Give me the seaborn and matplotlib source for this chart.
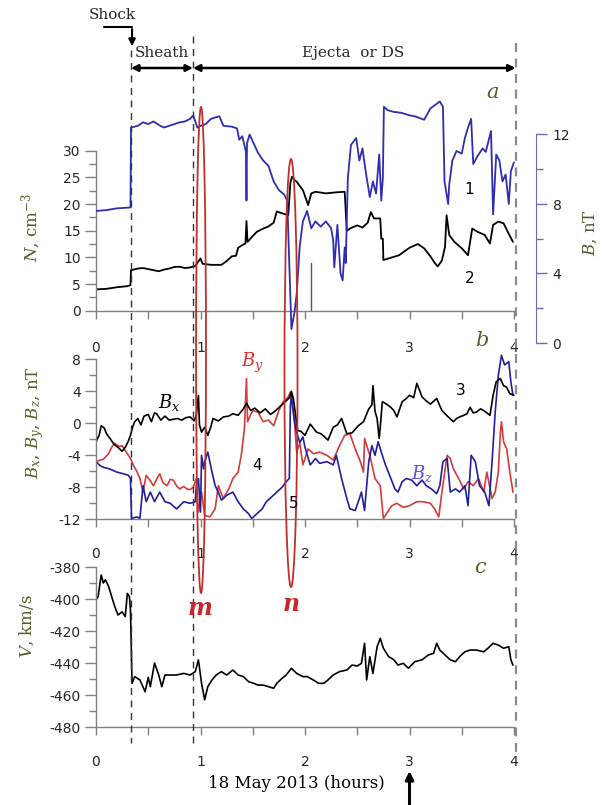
# %%
import numpy as np
import pandas as pd
import matplotlib
matplotlib.use('Agg')
import matplotlib.pyplot as plt
import seaborn as sns
from matplotlib.patches import Ellipse

# %%
# panel a : N (curve 2) and |B| (curve 1)
n_time = [0.00, 0.10, 0.20, 0.30, 0.33, 0.335, 0.40, 0.45, 0.50, 0.55, 0.60, 0.65, 0.70, 0.75,
          0.80, 0.85, 0.90, 0.95, 1.00, 1.02, 1.10, 1.20, 1.25, 1.30, 1.34, 1.36, 1.40, 1.43,
          1.44, 1.45, 1.50, 1.54, 1.60, 1.65, 1.70, 1.73, 1.79, 1.84, 1.86, 1.875, 1.90, 1.92,
          1.98, 2.00, 2.03, 2.06, 2.10, 2.20, 2.30, 2.38, 2.40, 2.44, 2.50, 2.55, 2.60, 2.63,
          2.66, 2.72, 2.73, 2.745, 2.75, 2.80, 2.90, 3.00, 3.08, 3.14, 3.20, 3.24, 3.27, 3.31,
          3.34, 3.355, 3.38, 3.43, 3.50, 3.56, 3.60, 3.65, 3.72, 3.77, 3.80, 3.85, 3.90, 3.94, 3.99]
n_vals = [4.0, 4.1, 4.4, 4.6, 4.8, 7.6, 7.9, 8.0, 7.8, 7.6, 7.4, 7.7, 7.9, 8.2,
          8.25, 8.0, 8.1, 8.4, 9.8, 8.8, 8.6, 8.6, 9.3, 10.2, 10.3, 11.8, 12.3, 12.6,
          16.8, 12.9, 14.0, 14.8, 15.4, 15.8, 16.5, 18.6, 18.2, 17.9, 24.0, 25.1, 24.5, 24.2,
          22.6, 21.5, 19.8, 22.0, 22.3, 22.0, 22.2, 22.3, 15.0, 15.5, 16.0, 15.6, 16.5, 18.5,
          17.3, 17.3, 13.5, 13.5, 9.5, 9.8, 10.4, 11.8, 12.5, 11.7, 10.2, 9.0, 8.3, 9.4,
          12.0, 17.9, 14.2, 12.9, 11.7, 10.4, 15.4, 14.8, 14.2, 12.6, 16.1, 16.7, 16.4, 14.8, 12.9]
gap_time = [2.06, 2.06]
gap_vals = [0.0, 9.0]

b_time = [0.00, 0.10, 0.20, 0.33, 0.335, 0.40, 0.45, 0.50, 0.55, 0.60, 0.65, 0.70, 0.75, 0.80,
          0.85, 0.90, 0.93, 0.97, 1.00, 1.05, 1.10, 1.18, 1.22, 1.30, 1.35, 1.37, 1.40, 1.42,
          1.435, 1.44, 1.445, 1.47, 1.50, 1.55, 1.60, 1.65, 1.70, 1.75, 1.80, 1.83, 1.85, 1.87,
          1.90, 1.92, 1.95, 1.98, 2.02, 2.06, 2.10, 2.15, 2.20, 2.25, 2.27, 2.28, 2.31, 2.34,
          2.36, 2.38, 2.39, 2.41, 2.44, 2.49, 2.52, 2.55, 2.58, 2.62, 2.65, 2.68, 2.71, 2.73,
          2.745, 2.755, 2.79, 2.85, 2.92, 3.00, 3.05, 3.14, 3.20, 3.29, 3.32, 3.335, 3.37, 3.38,
          3.41, 3.45, 3.50, 3.53, 3.56, 3.59, 3.61, 3.65, 3.70, 3.73, 3.78, 3.80, 3.83, 3.86,
          3.89, 3.92, 3.95, 3.97, 4.00]
b_vals = [7.6, 7.65, 7.75, 7.8, 12.4, 12.5, 12.7, 12.6, 12.75, 12.55, 12.4, 12.5, 12.6, 12.7,
          12.75, 12.9, 13.1, 12.4, 12.5, 12.6, 12.9, 13.05, 12.5, 12.45, 12.35, 11.7, 11.9, 11.4,
          11.0, 8.2, 11.5, 12.0, 11.6, 10.95, 10.5, 10.2, 9.3, 8.8, 8.55, 8.2, 4.5, 0.8,
          1.8, 2.8, 5.6, 7.0, 7.6, 6.6, 7.0, 6.7, 7.0, 6.6, 5.9, 4.35, 6.8, 4.0,
          3.6, 5.5, 4.6, 9.5, 11.4, 11.8, 10.5, 11.2, 9.9, 8.4, 9.3, 8.6, 10.85, 8.2,
          9.5, 13.6, 13.4, 13.3, 13.25, 13.1, 13.05, 12.85, 13.5, 13.9, 13.6, 9.3, 8.0, 9.1,
          10.5, 11.05, 10.9, 11.8, 12.4, 12.9, 10.3, 10.75, 11.2, 11.0, 12.2, 7.4, 10.85, 10.5,
          9.3, 9.7, 8.0, 9.9, 10.4]

# %%
# panel b : Bx (3), By (4), Bz (5)
bx_time = [0.00, 0.03, 0.05, 0.08, 0.10, 0.14, 0.17, 0.21, 0.25, 0.28, 0.31, 0.33, 0.35, 0.37,
           0.40, 0.43, 0.46, 0.50, 0.53, 0.56, 0.58, 0.62, 0.66, 0.70, 0.74, 0.78, 0.82, 0.86,
           0.90, 0.94, 0.96, 0.98, 0.99, 1.01, 1.04, 1.07, 1.10, 1.12, 1.17, 1.22, 1.27, 1.31,
           1.36, 1.41, 1.44, 1.48, 1.52, 1.57, 1.62, 1.67, 1.72, 1.77, 1.82, 1.85, 1.87, 1.89,
           1.91, 1.93, 1.96, 2.00, 2.05, 2.08, 2.11, 2.15, 2.18, 2.22, 2.27, 2.31, 2.35, 2.40,
           2.45, 2.51, 2.56, 2.61, 2.64, 2.65, 2.67, 2.69, 2.71, 2.72, 2.74, 2.78, 2.82, 2.85,
           2.88, 2.93, 2.97, 3.00, 3.04, 3.07, 3.10, 3.12, 3.16, 3.20, 3.26, 3.31, 3.34, 3.37,
           3.42, 3.45, 3.48, 3.52, 3.55, 3.58, 3.61, 3.64, 3.68, 3.71, 3.74, 3.77, 3.80, 3.83,
           3.87, 3.90, 3.93, 3.96, 4.00]
bx_vals = [-2.3, -1.5, -0.3, -0.6, -1.3, -2.0, -2.6, -3.0, -3.5, -3.0, -2.2, -1.5, -0.5, 0.2,
           0.6, -0.2, 0.9, 1.1, 0.2, 1.3, 1.2, 0.4, 0.9, 0.4, 0.5, 0.6, 0.4, 0.7,
           0.8, 0.3, 1.0, 3.5, -0.2, -1.1, -0.5, -1.5, -0.4, 0.6, 0.3, 0.8, 0.9, 1.2,
           1.0, 1.8, 2.5, 1.6, 1.9, 1.3, 1.8, 1.1, 1.6, 2.2, 2.8, 3.2, 4.0, 3.0,
           1.0, -0.9, -1.0, -1.5, -0.1, -0.6, -1.1, -1.3, -1.6, -2.1, -0.5, -0.2, 0.6, -1.3,
           -1.2, -0.3, 0.2, 1.8, 2.3, 4.7, 1.5, 0.6, -1.9, -0.5, 2.7, 2.4, 2.0, 1.6,
           0.8, 2.7, 3.1, 3.5, 3.2, 5.0, 4.0, 3.3, 2.8, 2.4, 3.1, 1.6, 1.2, 0.8,
           0.2, 0.6, 0.8, 1.0, 1.2, 2.0, 1.3, 1.4, 1.8, 1.6, 1.3, 1.0, 3.5, 5.2,
           5.6, 4.7, 4.5, 3.7, 3.5]

by_time = [0.00, 0.04, 0.07, 0.10, 0.12, 0.15, 0.18, 0.22, 0.25, 0.29, 0.33, 0.36, 0.39, 0.42,
           0.45, 0.48, 0.52, 0.55, 0.58, 0.61, 0.64, 0.68, 0.71, 0.74, 0.77, 0.80, 0.84, 0.87,
           0.90, 0.93, 0.96, 0.98, 1.01, 1.04, 1.09, 1.14, 1.17, 1.20, 1.22, 1.27, 1.31, 1.36,
           1.39, 1.42, 1.44, 1.45, 1.47, 1.50, 1.55, 1.60, 1.65, 1.70, 1.75, 1.79, 1.84, 1.86,
           1.87, 1.90, 1.92, 1.95, 1.98, 2.03, 2.08, 2.14, 2.21, 2.27, 2.33, 2.38, 2.43, 2.48,
           2.53, 2.56, 2.57, 2.62, 2.67, 2.72, 2.75, 2.78, 2.83, 2.88, 2.94, 3.00, 3.07, 3.13,
           3.20, 3.24, 3.28, 3.31, 3.36, 3.39, 3.42, 3.47, 3.52, 3.56, 3.61, 3.66, 3.71, 3.74,
           3.79, 3.82, 3.85, 3.87, 3.88, 3.90, 3.93, 3.96, 3.99]
by_vals = [-4.8, -4.6, -4.5, -4.1, -3.8, -3.0, -2.5, -2.9, -2.8, -3.6, -4.4, -5.3, -6.0, -6.9,
           -8.6, -6.5, -7.2, -7.8, -7.0, -6.3, -7.4, -7.8, -7.0, -7.1, -7.8, -8.2, -7.9, -8.2,
           -8.3, -8.0, -6.9, -11.1, -8.6, -11.5, -11.7, -10.7, -7.8, -8.8, -9.4, -8.2, -6.9, -6.1,
           -4.0, -0.7, 5.6, 0.2, 0.8, 1.6, 1.4, 0.2, 0.4, -0.3, 1.6, 2.7, 3.3, 3.9,
           3.0, 0.2, -3.6, -2.5, -5.2, -3.2, -3.8, -3.6, -4.0, -4.6, -2.8, -1.5, -1.3, -3.2,
           -4.8, -6.1, -1.9, -4.0, -6.9, -7.8, -11.9, -11.3, -10.3, -10.0, -10.5, -10.3, -9.8, -9.8,
           -10.0, -10.7, -11.7, -8.6, -4.0, -4.4, -5.7, -6.9, -8.2, -7.3, -7.8, -6.9, -8.6, -6.1,
           -9.4, -8.6, -6.1, -1.1, 0.2, -2.3, -3.2, -6.1, -8.6]

bz_time = [0.00, 0.04, 0.07, 0.13, 0.20, 0.26, 0.31, 0.33, 0.34, 0.39, 0.42, 0.45, 0.48, 0.52,
           0.56, 0.61, 0.66, 0.71, 0.77, 0.84, 0.90, 0.95, 0.96, 0.98, 1.00, 1.01, 1.03, 1.04,
           1.07, 1.11, 1.14, 1.17, 1.20, 1.25, 1.31, 1.36, 1.41, 1.46, 1.49, 1.54, 1.59, 1.63,
           1.68, 1.73, 1.78, 1.82, 1.85, 1.86, 1.87, 1.90, 1.92, 1.95, 1.98, 2.00, 2.05, 2.10,
           2.14, 2.21, 2.27, 2.30, 2.35, 2.40, 2.43, 2.48, 2.51, 2.54, 2.57, 2.61, 2.64, 2.67,
           2.70, 2.73, 2.77, 2.81, 2.86, 2.89, 2.93, 2.97, 3.02, 3.07, 3.12, 3.16, 3.21, 3.26,
           3.29, 3.32, 3.36, 3.39, 3.44, 3.48, 3.53, 3.56, 3.59, 3.63, 3.67, 3.72, 3.76, 3.79,
           3.82, 3.85, 3.88, 3.91, 3.95, 3.97, 3.99]
bz_vals = [-4.8, -5.3, -5.5, -5.7, -6.1, -6.3, -6.5, -6.9, -11.9, -11.7, -11.9, -7.8, -9.8, -8.6,
           -9.8, -8.6, -9.8, -10.0, -10.7, -9.8, -10.0, -9.8, -7.8, -6.9, -11.1, -4.0, -5.7, -4.8,
           -3.6, -6.1, -7.8, -8.6, -9.6, -9.0, -8.6, -9.8, -10.7, -11.3, -11.9, -11.3, -10.7, -9.8,
           -9.2, -8.6, -8.0, -7.3, -6.9, 2.2, 3.5, 0.2, -1.1, -2.4, -1.7, -3.0, -5.2, -4.4,
           -5.0, -4.8, -5.2, -4.0, -6.9, -9.4, -10.7, -10.9, -9.8, -8.6, -10.9, -4.8, -2.8, -4.0,
           -2.3, -3.6, -5.2, -6.5, -8.2, -8.6, -7.3, -6.9, -7.1, -7.8, -7.1, -7.8, -8.2, -8.8,
           -7.8, -4.8, -4.4, -8.6, -8.2, -8.6, -7.8, -10.3, -4.0, -4.8, -7.8, -8.6, -10.3, -4.8,
           1.4, 6.0, 8.5, 7.3, 7.7, 5.2, 3.5]

# %%
# panel c : V
v_time = [0.00, 0.02, 0.05, 0.07, 0.09, 0.12, 0.15, 0.18, 0.21, 0.25, 0.28, 0.30, 0.32, 0.33,
          0.345, 0.37, 0.42, 0.45, 0.47, 0.50, 0.52, 0.56, 0.60, 0.63, 0.66, 0.71, 0.77, 0.84,
          0.90, 0.95, 0.98, 1.01, 1.04, 1.07, 1.11, 1.15, 1.20, 1.25, 1.31, 1.36, 1.41, 1.46,
          1.51, 1.55, 1.60, 1.65, 1.70, 1.73, 1.78, 1.82, 1.87, 1.92, 1.98, 2.02, 2.08, 2.13,
          2.18, 2.22, 2.27, 2.33, 2.40, 2.45, 2.50, 2.54, 2.57, 2.59, 2.62, 2.65, 2.69, 2.72,
          2.75, 2.80, 2.85, 2.89, 2.94, 2.99, 3.05, 3.12, 3.18, 3.23, 3.26, 3.29, 3.34, 3.39,
          3.44, 3.48, 3.53, 3.58, 3.64, 3.71, 3.75, 3.80, 3.85, 3.90, 3.95, 3.97, 3.99]
v_vals = [-400.6, -398.5, -385.0, -390.0, -388.0, -392.0, -398.5, -404.8, -410.0, -408.0, -411.0,
          -396.5, -398.5, -407.0, -452.7, -448.5, -450.6, -455.0, -458.0, -449.0, -454.8, -440.0,
          -447.5, -454.8, -447.5, -447.5, -447.5, -446.5, -447.5, -445.4, -438.0, -452.7, -463.0,
          -454.8, -450.6, -447.5, -445.4, -447.5, -444.4, -447.5, -448.5, -451.7, -452.7, -453.8,
          -453.8, -454.8, -455.8, -452.7, -449.6, -447.5, -443.3, -446.5, -448.5, -448.5, -450.6,
          -452.7, -452.7, -450.6, -447.5, -445.4, -444.4, -441.3, -441.9, -440.2, -427.7, -450.6,
          -436.0, -446.5, -429.8, -424.6, -430.8, -436.0, -438.0, -441.3, -440.2, -443.3, -439.2,
          -438.0, -435.0, -434.0, -427.7, -431.9, -435.0, -438.0, -439.2, -436.0, -433.0, -431.9,
          -431.9, -433.0, -430.8, -427.7, -428.8, -430.8, -429.8, -438.0, -441.3]

# event boundaries (hours): shock, ejecta start, end
bounds_h = [0.335, 0.928, 4.015]

# %%
# layout in pixels of the 602x805 picture
W, H = 602, 805
X0, PXH, XMAX = 96, 104.5, 4.3
OLIVE = '#5a5a2c'
SERIF = 'DejaVu Serif'

sns.set_style('ticks')
plt.rcParams['font.family'] = ['DejaVu Sans']
plt.rcParams['mathtext.fontset'] = 'dejavuserif'
plt.rcParams['axes.unicode_minus'] = False


def rect(top, bottom):
    return [X0 / W, 1 - bottom / H, XMAX * PXH / W, (bottom - top) / H]


def style(ax, pad_x):
    ax.set_facecolor('none')
    ax.set_xlim(0, XMAX)
    ax.set_xticks([0, 1, 2, 3, 4])
    ax.set_xticks([0.5, 1.5, 2.5, 3.5], minor=True)
    for s in ['top', 'right']:
        ax.spines[s].set_visible(False)
    ax.spines['bottom'].set_bounds(0, 4)
    for s in ['left', 'bottom']:
        ax.spines[s].set_color('#808080')
        ax.spines[s].set_linewidth(1.0)
    ax.tick_params(axis='x', which='both', direction='out', length=6, width=1,
                   color='#808080', labelsize=10, pad=pad_x)
    ax.tick_params(axis='y', which='major', direction='out', length=8, width=1,
                   color='#808080', labelsize=10, pad=3)
    ax.tick_params(axis='y', which='minor', direction='out', length=5, width=1,
                   color='#808080')
    ax.set_xlabel('')
    ax.set_ylabel('')


fig = plt.figure(figsize=(W / 100, H / 100), dpi=100)

# --- panel a
top_a, bot_a = 92, 345.4
ax_a = fig.add_axes(rect(top_a, bot_a))
ax_a.set_ylim(-(bot_a - 310.7) / 5.333, (310.7 - top_a) / 5.333)
sns.lineplot(x=n_time, y=n_vals, ax=ax_a, color='black', linewidth=1.3,
             estimator=None, sort=False)
sns.lineplot(x=gap_time, y=gap_vals, ax=ax_a, color='#555555', linewidth=1.0,
             estimator=None, sort=False)
style(ax_a, 16)
ax_a.spines['bottom'].set_position(('data', 0))
ax_a.spines['left'].set_bounds(0, 30)
ax_a.set_yticks([0, 5, 10, 15, 20, 25, 30])
ax_a.set_yticks(np.arange(2.5, 30, 5), minor=True)

ax_B = ax_a.twinx()
ax_B.set_ylim(-(bot_a - 343) / 17.375, (343 - top_a) / 17.375)
sns.lineplot(x=b_time, y=b_vals, ax=ax_B, color='#2e2eb0', linewidth=1.3,
             estimator=None, sort=False)
ax_B.set_facecolor('none')
ax_B.set_ylabel('')
for s in ['top', 'bottom', 'left']:
    ax_B.spines[s].set_visible(False)
ax_B.spines['right'].set_position(('data', 4.21))
ax_B.spines['right'].set_bounds(0, 12)
ax_B.spines['right'].set_color('#6a6ab8')
ax_B.set_yticks([0, 4, 8, 12])
ax_B.set_yticks([2, 6, 10], minor=True)
ax_B.tick_params(axis='y', which='major', direction='out', length=8, width=1,
                 color='#6a6ab8', labelsize=10, pad=4)
ax_B.tick_params(axis='y', which='minor', direction='out', length=5, width=1,
                 color='#6a6ab8')

# --- panel b
top_b, bot_b = 347, 519.3
ax_b = fig.add_axes(rect(top_b, bot_b))
ax_b.set_ylim(8 - (bot_b - 359.3) / 8, 8 + (359.3 - top_b) / 8)
sns.lineplot(x=by_time, y=by_vals, ax=ax_b, color='#d63a3a', linewidth=1.2,
             estimator=None, sort=False)
sns.lineplot(x=bz_time, y=bz_vals, ax=ax_b, color='#1f1fa0', linewidth=1.2,
             estimator=None, sort=False)
sns.lineplot(x=bx_time, y=bx_vals, ax=ax_b, color='black', linewidth=1.2,
             estimator=None, sort=False)
style(ax_b, 14)
ax_b.spines['left'].set_bounds(-12, 8)
ax_b.set_yticks([-12, -8, -4, 0, 4, 8])
ax_b.set_yticks([-10, -6, -2, 2, 6], minor=True)

# --- panel c
top_c, bot_c = 560, 727
ax_c = fig.add_axes(rect(top_c, bot_c))
ax_c.set_ylim(-380 - (bot_c - 567) / 1.6, -380 + (567 - top_c) / 1.6)
sns.lineplot(x=v_time, y=v_vals, ax=ax_c, color='black', linewidth=1.2,
             estimator=None, sort=False)
style(ax_c, 14)
ax_c.spines['left'].set_bounds(-480, -380)
ax_c.set_yticks([-480, -460, -440, -420, -400, -380])
ax_c.set_yticks([-470, -450, -430, -410, -390], minor=True)

# --- overlay: hours across, pixels down
ov = fig.add_axes([X0 / W, 0, XMAX * PXH / W, 1])
ov.set_xlim(0, XMAX)
ov.set_ylim(H, 0)
ov.set_axis_off()
ov.set_zorder(10)

dash = (0, (5, 4))
ov.plot([bounds_h[0]] * 2, [50, 743], color='#333333', lw=1.0, ls=dash)
ov.plot([bounds_h[1]] * 2, [36, 743], color='#333333', lw=1.0, ls=dash)
ov.plot([bounds_h[2]] * 2, [43, 757], color='#8a8a8a', lw=1.6, ls=(0, (4, 3)))

ov.text(0.153, 15, 'Shock', family=SERIF, fontsize=11, ha='center', va='center')
ov.plot([0.077, bounds_h[0] + 0.01], [27, 27], color='black', lw=1.5)
ov.annotate('', xy=(bounds_h[0] + 0.01, 49), xytext=(bounds_h[0] + 0.01, 26.3),
            arrowprops=dict(arrowstyle='-|>', color='black', lw=1.5, mutation_scale=10))
ov.text(0.63, 53, 'Sheath', family=SERIF, fontsize=11, ha='center', va='center')
ov.text(2.46, 53, 'Ejecta  or DS', family=SERIF, fontsize=11, ha='center', va='center')
ov.annotate('', xy=(bounds_h[0], 68), xytext=(bounds_h[1], 68),
            arrowprops=dict(arrowstyle='<|-|>', color='black', lw=1.8, mutation_scale=10,
                            shrinkA=0, shrinkB=0))
ov.annotate('', xy=(bounds_h[1], 68), xytext=(bounds_h[2], 68),
            arrowprops=dict(arrowstyle='<|-|>', color='black', lw=1.8, mutation_scale=10,
                            shrinkA=0, shrinkB=0))

# red m / n markers
ov.add_patch(Ellipse((1.005, 350), 0.095, 486, fill=False, ec='#c0302a', lw=1.3))
ov.add_patch(Ellipse((1.866, 373), 0.125, 428, fill=False, ec='#c0302a', lw=1.3))
ov.text(1.0, 608, 'm', family=SERIF, style='italic', weight='bold', fontsize=17,
        color='#c8282d', ha='center', va='center')
ov.text(1.865, 604, 'n', family=SERIF, style='italic', weight='bold', fontsize=17,
        color='#c8282d', ha='center', va='center')

# panel letters
for h, y, s in [(3.79, 92, 'a'), (3.69, 340, 'b'), (3.67, 567, 'c')]:
    ov.text(h, y, s, family=SERIF, style='italic', fontsize=15, color=OLIVE,
            ha='center', va='center')

# curve numbers
for h, y, s in [(3.57, 190, '1'), (3.58, 278, '2'), (3.49, 390, '3'),
                (1.54, 465, '4'), (1.89, 503, '5')]:
    ov.text(h, y, s, fontsize=11, color='black', ha='center', va='center')
ov.text(0.70, 402, r'$B_x$', fontsize=13, color='black', ha='center', va='center')
ov.text(1.50, 363, r'$B_y$', fontsize=13, color='#e03030', ha='center', va='center')
ov.text(3.12, 473, r'$B_z$', fontsize=13, color='#5a4ee0', ha='center', va='center')

# axis titles
ov.text(-0.62, 228, r'$N$, cm$^{-3}$', family=SERIF, fontsize=12, color=OLIVE,
        rotation=90, ha='center', va='center')
ov.text(4.73, 233, r'$B$, nT', family=SERIF, fontsize=12, color=OLIVE,
        rotation=90, ha='center', va='center')
ov.text(-0.58, 423, r'$B_x$, $B_y$, $B_z$, nT', family=SERIF, fontsize=12, color=OLIVE,
        rotation=90, ha='center', va='center')
ov.text(-0.66, 626, r'$V$, km/s', family=SERIF, fontsize=12, color=OLIVE,
        rotation=90, ha='center', va='center')
ov.text(1.92, 783, '18 May 2013 (hours)', family=SERIF, fontsize=12, color='black',
        ha='center', va='center')
ov.annotate('', xy=(3.0, 771), xytext=(3.0, 806),
            arrowprops=dict(arrowstyle='-|>', color='black', lw=2.2, mutation_scale=12,
                            shrinkA=0, shrinkB=0))

fig.savefig('out.png', dpi=100)
